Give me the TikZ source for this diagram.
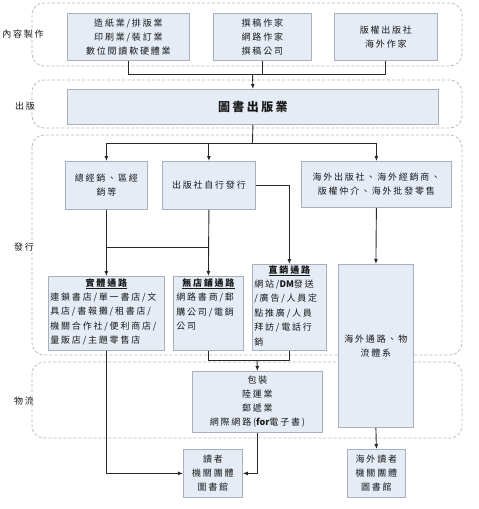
\documentclass[tikz,border=0pt]{standalone}
\usepackage{fontspec}
\setmainfont{Noto Sans CJK TC}[LetterSpace=20]
\newfontfamily\latf{Noto Sans CJK TC}
\usetikzlibrary{arrows.meta}
\definecolor{fillc}{RGB}{230,236,246}
\definecolor{bordc}{RGB}{168,176,190}
\definecolor{grpc}{RGB}{185,185,185}
\definecolor{linec}{RGB}{40,40,40}
\newcommand\ft{\fontsize{9}{14}\selectfont}
\newcommand\fte{\fontsize{9}{14.4}\selectfont}
\tikzset{
 bx/.style={draw=bordc, fill=fillc, line width=0.8pt, inner sep=2pt, anchor=north west, align=center, font=\ft, text=black!90},
 grp/.style={draw=grpc, dash pattern=on 3pt off 2pt, rounded corners=12pt, line width=0.8pt},
 arr/.style={-{Latex[length=5pt,width=4pt]}},
 con/.style={draw=linec, line width=0.9pt},
 lbl/.style={font=\ft, inner sep=0pt, text=black!90}
}
\begin{document}
\begin{tikzpicture}[x=1pt,y=-1pt]
\useasboundingbox (0,0) rectangle (479,509);
% groups
\draw[grp] (32,3) rectangle (462,66);
\draw[grp] (32,80) rectangle (462,128);
\draw[grp] (32,135) rectangle (462,355);
\draw[grp] (32,362) rectangle (462,438);
% labels
\node[lbl] (L1) at (23,34) {內容製作};
\node[lbl] (L2) at (25,106) {出版};
\node[lbl] (L3) at (24,247) {發行};
\node[lbl] (L4) at (24,401) {物流};
% content
\node[bx, minimum width=122pt, minimum height=47pt] (A1) at (67,13) {造紙業/排版業\\印刷業/裝訂業\\數位閱讀軟硬體業};
\node[bx, minimum width=98pt, minimum height=47pt] (A2) at (213,13) {撰稿作家\\網路作家\\撰稿公司};
\node[bx, minimum width=103pt, minimum height=47pt] (A3) at (334,13) {版權出版社\\海外作家};
\node[bx, minimum width=371pt, minimum height=35pt, font=\fontsize{12}{14}\selectfont\bfseries] (P) at (67,89) {圖書出版業};
% distribution
\node[bx, minimum width=82pt, minimum height=48pt] (D1) at (65,161) {總經銷、區經\\銷等};
\node[bx, minimum width=93pt, minimum height=48pt] (D2) at (162,161) {出版社自行發行};
\node[bx, minimum width=150pt, minimum height=46pt] (D3) at (301,161) {海外出版社、海外經銷商、\\版權仲介、海外批發零售};
\node[bx, minimum width=116pt, minimum height=74pt, inner sep=0pt, font=\fte] (E1) at (48,276) {\parbox[c][70pt][t]{112pt}{\makebox[\linewidth]{\bfseries\underline{實體通路}}\\連鎖書店/單一書店/文\\具店/書報攤/租書店/\\機關合作社/便利商店/\\量販店/主題零售店}};
\node[bx, minimum width=70pt, minimum height=74pt, inner sep=0pt, font=\fte] (E2) at (173,276) {\parbox[c][70pt][t]{64pt}{\makebox[\linewidth]{\bfseries\underline{無店鋪通路}}\\網路書商/郵\\購公司/電銷\\公司}};
\node[bx, minimum width=74pt, minimum height=86pt, inner sep=0pt, font=\fte] (E3) at (252,264) {\parbox[c][84pt][t]{70pt}{\makebox[\linewidth]{\bfseries\underline{直銷通路}}\\網站/{\latf\bfseries DM}發送\\/廣告/人員定\\點推廣/人員\\拜訪/電話行\\銷}};
\node[bx, minimum width=75pt, minimum height=163pt] (F) at (338,264) {海外通路、物\\流體系};
\node[bx, minimum width=130pt, minimum height=61pt] (G) at (192,371) {包裝\\陸運業\\郵遞業\\網際網路({\latf\bfseries for}電子書)};
\node[bx, minimum width=59pt, minimum height=48pt] (H) at (183,449) {讀者\\機關團體\\圖書館};
\node[bx, minimum width=58pt, minimum height=48pt] (I) at (347,449) {海外讀者\\機關團體\\圖書館};
% junctions
\coordinate (j1) at (252.5,74);
\coordinate (j2) at (252.5,143);
\coordinate (j3) at (106,247);
\coordinate (j4) at (257,360);
% connectors
\draw[con] (A1.south) |- (A3.south |- j1) -- (A3.south);
\draw[con] (A2.south) -- (A2.south |- j1);
\draw[con,arr] (j1) -- (P.north);
\draw[con] (P.south) -- (j2);
\draw[con] (D1.north |- j2) -- (D3.north |- j2);
\draw[con,arr] (D1.north |- j2) -- (D1.north);
\draw[con,arr] (D2.north |- j2) -- (D2.north);
\draw[con,arr] (D3.north |- j2) -- (D3.north);
\draw[con,arr] (D2.east) -| (E3.north);
\draw[con,arr] (D1.south) -- (E1.north);
\draw[con,arr] (D2.south) -- (E2.north);
\draw[con] (D1.south |- j3) -- (D2.south |- j3);
\draw[con,arr] (D3.south) -- (F.north);
\draw[con] (E2.south) |- (E3.south |- j4) -- (E3.south);
\draw[con,arr] (j4) -- (G.north);
\draw[con,arr] (E1.south) |- (H.west);
\draw[con,arr] (G.south) |- (H.east);
\draw[con,arr] (F.south) -- (I.north);
\end{tikzpicture}
\end{document}
